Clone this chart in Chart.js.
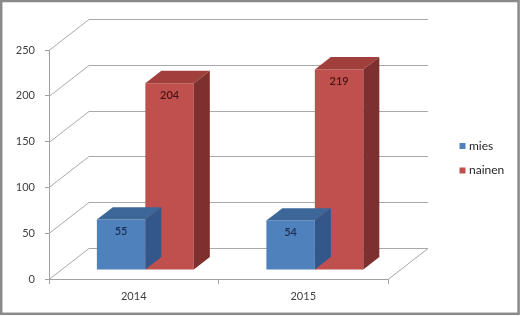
<!DOCTYPE html>
<html>
<head>
<meta charset="utf-8">
<script src="https://cdn.jsdelivr.net/npm/chart.js@4"></script>
<style>
html,body{margin:0;padding:0;background:#fff;}
#wrap{width:520px;height:316px;position:relative;}
</style>
</head>
<body>
<div id="wrap"><canvas id="c" width="520" height="316"></canvas></div>
<script>
const categories = ['2014', '2015'];
const seriesNames = ['mies', 'nainen'];
const miesValues = [55, 54];
const nainenValues = [204, 219];
const yTicks = [0, 50, 100, 150, 200, 250];

const FONT = 'Lato, "Open Sans", sans-serif';
const WALL = {dx: 40, dy: -31};      // depth of the plot box
const FRONT = {dx: 11.6, dy: -9};     // bar front plane offset
const BAR = {dx: 16, dy: -12.4};     // bar depth

const faces = [
  {front: '#4f81bd', top: '#3d6799', side: '#33578a', label: '#1c2f52'},
  {front: '#c0504d', top: '#a03f3c', side: '#7e302e', label: '#4a1514'}
];

const plot3d = {
  id: 'plot3d',
  beforeDraw(chart) {
    const ctx = chart.ctx;
    ctx.save();
    ctx.fillStyle = '#ffffff';
    ctx.fillRect(0, 0, chart.width, chart.height);
    ctx.strokeStyle = '#8a8a8a';
    ctx.lineWidth = 2.5;
    ctx.strokeRect(1.2, 1, chart.width - 2.6, chart.height - 3.2);
    ctx.restore();
  },
  beforeDatasetsDraw(chart) {
    const ctx = chart.ctx;
    const a = chart.chartArea;
    const y = chart.scales.y;
    ctx.save();
    ctx.strokeStyle = '#a9a9a9';
    ctx.lineWidth = 1;
    yTicks.forEach(v => {
      const py = Math.round(y.getPixelForValue(v)) + 0.5;
      ctx.beginPath();
      ctx.moveTo(a.left, py);
      ctx.lineTo(a.left + WALL.dx, py + WALL.dy);
      ctx.lineTo(a.right + WALL.dx, py + WALL.dy);
      if (v === 0) {
        ctx.lineTo(a.right, py);
      }
      ctx.stroke();
    });
    ctx.restore();
    ctx.save();
    ctx.translate(FRONT.dx, FRONT.dy);
  },
  afterDatasetDraw(chart, args) {
    const ctx = chart.ctx;
    const f = faces[args.index];
    const meta = args.meta;
    meta.data.forEach(el => {
      const p = el.getProps(['x', 'y', 'base', 'width'], true);
      const l = p.x - p.width / 2, r = p.x + p.width / 2;
      ctx.fillStyle = f.top;
      ctx.beginPath();
      ctx.moveTo(l, p.y);
      ctx.lineTo(r, p.y);
      ctx.lineTo(r + BAR.dx, p.y + BAR.dy);
      ctx.lineTo(l + BAR.dx, p.y + BAR.dy);
      ctx.closePath();
      ctx.fill();
      ctx.fillStyle = f.side;
      ctx.beginPath();
      ctx.moveTo(r, p.y);
      ctx.lineTo(r + BAR.dx, p.y + BAR.dy);
      ctx.lineTo(r + BAR.dx, p.base + BAR.dy);
      ctx.lineTo(r, p.base);
      ctx.closePath();
      ctx.fill();
    });
  },
  afterDatasetsDraw(chart) {
    const ctx = chart.ctx;
    ctx.font = '600 11px ' + FONT;
    ctx.textAlign = 'center';
    ctx.textBaseline = 'middle';
    chart.data.datasets.forEach((ds, i) => {
      const meta = chart.getDatasetMeta(i);
      meta.data.forEach((el, j) => {
        const p = el.getProps(['x', 'y'], true);
        ctx.fillStyle = faces[i].label;
        ctx.fillText(String(ds.data[j]), p.x, p.y + 12);
      });
    });
    ctx.restore();
  },
  afterDraw(chart) {
    const ctx = chart.ctx;
    ctx.save();
    ctx.font = '12px ' + FONT;
    ctx.textBaseline = 'middle';
    ctx.textAlign = 'left';
    chart.data.datasets.forEach((ds, i) => {
      const cy = 146 + i * 24.5;
      ctx.fillStyle = faces[i].front;
      ctx.fillRect(459.5, cy - 3, 6, 6);
      ctx.fillStyle = '#262626';
      ctx.fillText(ds.label, 469, cy);
    });
    ctx.restore();
  }
};

new Chart(document.getElementById('c'), {
  type: 'bar',
  data: {
    labels: categories,
    datasets: [
      {label: seriesNames[0], data: miesValues, backgroundColor: faces[0].front, borderWidth: 0, clip: false},
      {label: seriesNames[1], data: nainenValues, backgroundColor: faces[1].front, borderWidth: 0, clip: false}
    ]
  },
  options: {
    responsive: false,
    animation: false,
    devicePixelRatio: 1,
    categoryPercentage: 0.572,
    barPercentage: 1,
    layout: {padding: {left: 0, top: 50, right: 132, bottom: 0}},
    plugins: {legend: {display: false}, tooltip: {enabled: false}},
    scales: {
      x: {
        grid: {display: true, drawOnChartArea: false, drawTicks: true, tickLength: 5, color: '#a0a0a0', offset: true},
        border: {display: true, color: '#a0a0a0'},
        ticks: {font: {family: FONT, size: 11}, color: '#404040', padding: 6},
        afterFit(s) { s.height = 37; }
      },
      y: {
        min: 0, max: 250,
        afterBuildTicks(s) { s.ticks = yTicks.map(v => ({value: v})); },
        grid: {display: true, drawOnChartArea: false, drawTicks: true, tickLength: 4, color: '#a0a0a0'},
        border: {display: true, color: '#a0a0a0'},
        ticks: {font: {family: FONT, size: 11}, color: '#404040', padding: 10},
        afterFit(s) { s.width = 49; }
      }
    }
  },
  plugins: [plot3d]
});
</script>
</body>
</html>
